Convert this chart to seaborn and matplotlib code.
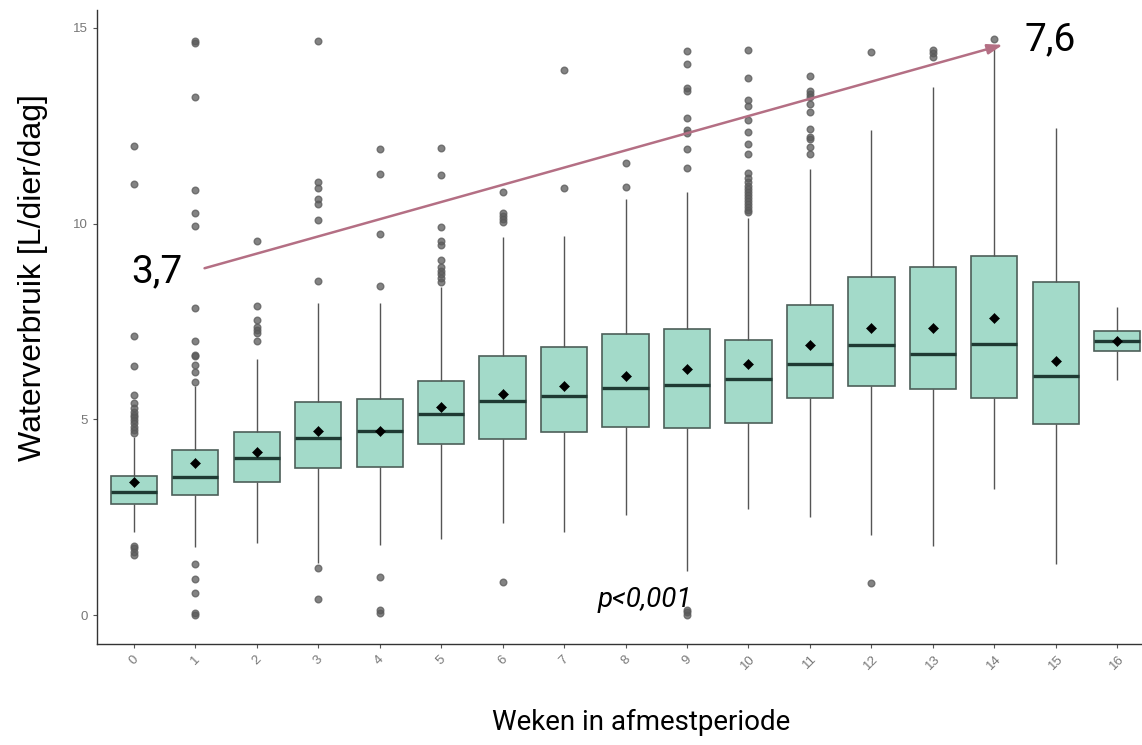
import numpy as np
import pandas as pd
import seaborn as sns
import matplotlib.pyplot as plt

# waarden (per week 0..16)
weeks = [str(i) for i in range(17)]
whisker_low = [2.12, 1.75, 1.85, 1.33, 1.79, 1.96, 2.36, 2.14, 2.55, 1.13, 2.71, 2.52, 2.04, 1.76, 3.22, 1.31, 6.01]
q1 = [2.85, 3.06, 3.41, 3.76, 3.79, 4.37, 4.49, 4.68, 4.82, 4.78, 4.91, 5.54, 5.86, 5.77, 5.54, 4.88, 6.75]
median = [3.15, 3.53, 4.01, 4.52, 4.70, 5.15, 5.48, 5.59, 5.81, 5.88, 6.03, 6.42, 6.90, 6.68, 6.93, 6.10, 7.00]
q3 = [3.55, 4.21, 4.69, 5.45, 5.51, 5.99, 6.62, 6.84, 7.17, 7.32, 7.04, 7.93, 8.63, 8.88, 9.17, 8.50, 7.26]
whisker_high = [4.54, 5.85, 6.54, 7.97, 7.97, 8.38, 9.65, 9.68, 10.63, 10.81, 10.14, 11.39, 12.38, 13.49, 14.45, 12.45, 7.88]
means = [3.40, 3.88, 4.16, 4.70, 4.70, 5.31, 5.66, 5.85, 6.10, 6.29, 6.42, 6.89, 7.33, 7.33, 7.59, 6.48, 7.00]

outliers_low = [
    [1.78, 1.72, 1.62, 1.53],
    [1.32, 0.92, 0.56, 0.05, 0.0],
    [],
    [1.20, 0.41],
    [0.98, 0.14, 0.05],
    [],
    [0.85],
    [],
    [],
    [0.14, 0.08, 0.01],
    [],
    [],
    [0.82],
    [],
    [],
    [],
    [],
]
outliers_high = [
    [4.65, 4.72, 4.82, 4.90, 4.98, 5.05, 5.12, 5.20, 5.30, 5.41, 5.62, 6.37, 7.13, 11.0, 11.98],
    [5.96, 6.21, 6.40, 6.61, 6.65, 7.0, 7.84, 9.93, 10.28, 10.85, 13.23, 14.62, 14.67],
    [7.00, 7.21, 7.28, 7.37, 7.54, 7.90, 9.55],
    [8.53, 10.08, 10.51, 10.63, 10.90, 11.07, 14.66],
    [8.41, 9.73, 11.26, 11.90],
    [8.52, 8.60, 8.70, 8.80, 8.90, 9.08, 9.45, 9.56, 9.90, 11.23, 11.93],
    [10.05, 10.12, 10.20, 10.26, 10.81],
    [10.91, 13.93],
    [10.94, 11.55],
    [11.42, 11.90, 12.32, 12.39, 12.69, 13.39, 13.45, 14.06, 14.41],
    [10.29, 10.35, 10.42, 10.50, 10.58, 10.65, 10.72, 10.80, 10.88, 10.95, 11.05, 11.15,
     11.28, 11.77, 12.02, 12.34, 12.63, 13.01, 13.14, 13.71, 14.43],
    [11.77, 11.96, 12.15, 12.22, 12.40, 12.85, 13.04, 13.24, 13.30, 13.37, 13.77],
    [14.37],
    [14.25, 14.35, 14.43],
    [14.72],
    [],
    [],
]

# per week een reeks opbouwen waarvan seaborn dezelfde kwartielen/snorren berekent
n = 100
rows = []
for i, w in enumerate(weeks):
    vals = outliers_low[i] + [whisker_low[i]] + [q1[i]] * n + [median[i]] * n + [q3[i]] * n \
        + [whisker_high[i]] + outliers_high[i]
    for v in vals:
        rows.append((w, v))
df = pd.DataFrame(rows, columns=["week", "verbruik"])

sns.set_style("white")
plt.rcParams["font.family"] = ["Liberation Sans", "DejaVu Sans"]
fig = plt.figure(figsize=(11.42, 7.45), dpi=100)
ax = fig.add_axes([0.0847, 0.1356, 0.9153, 0.851])

sns.boxplot(data=df, x="week", y="verbruik", order=weeks, ax=ax,
            color="#a3dac9", saturation=1, width=0.75, linecolor="#4d5f59", linewidth=1.2,
            showcaps=False,
            medianprops=dict(color="#1f3a33", linewidth=2.4),
            whiskerprops=dict(color="#555555", linewidth=1.0),
            flierprops=dict(marker="o", markersize=4.8, markerfacecolor="#5a5a5a",
                            markeredgecolor="#5a5a5a", alpha=0.75))
sns.scatterplot(x=np.arange(len(weeks)), y=means, marker="D", color="black", s=26,
                edgecolor="black", zorder=5, ax=ax)

ax.set_xlim(-0.6, 16.4)
ax.set_ylim(-0.73, 15.45)
ax.set_yticks([0, 5, 10, 15])
ax.set_yticklabels(["0", "5", "10", "15"])
ax.tick_params(axis="both", colors="#555555", labelcolor="#777777", labelsize=9.5, length=3, width=0.8,
               direction="out", left=True, bottom=True)
plt.setp(ax.get_xticklabels(), rotation=45, ha="center", va="top")
for s in ["left", "bottom"]:
    ax.spines[s].set_color("#333333")
    ax.spines[s].set_linewidth(1.0)
sns.despine(ax=ax)

ax.set_xlabel("")
ax.set_ylabel("Waterverbruik [L/dier/dag]", fontsize=23, color="black")
ax.yaxis.set_label_coords(-0.047, 0.578)

cond = ["Roboto", "DejaVu Sans"]
fig.text(641 / 1142, 1 - 722 / 745, "Weken in afmestperiode", fontsize=20, family=cond,
         color="black", ha="center", va="center")

# trendpijl met de gemiddelden
ax.annotate("", xy=(14.18, 14.58), xytext=(1.11, 8.84),
            arrowprops=dict(arrowstyle="-|>,head_length=0.9,head_width=0.3", color="#b46f84", lw=1.8))
ax.text(0.38, 8.77, "3,7", fontsize=28, family=cond, color="black", ha="center", va="center")
ax.text(14.9, 14.69, "7,6", fontsize=28, family=cond, color="black", ha="center", va="center")
ax.text(8.31, 0.39, "p<0,001", fontsize=20, family=cond, style="italic", color="black",
        ha="center", va="center")

fig.savefig("out.png", dpi=100)
